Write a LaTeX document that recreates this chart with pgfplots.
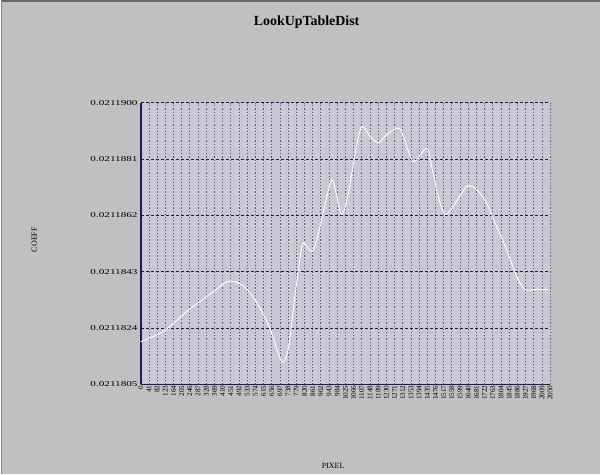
\documentclass[border=0pt]{standalone}
\usepackage{pgfplots}
\pgfplotsset{compat=1.18}
\usepackage{graphicx}
\usepackage{fontspec}
\setmainfont{Liberation Serif}
\definecolor{bg}{HTML}{C0C0C0}
\definecolor{plotbg}{HTML}{C8C8D6}
\definecolor{gridnavy}{HTML}{1E1E50}
\begin{document}
\begin{tikzpicture}[x=1bp,y=1bp]
\fill[bg] (0,0) rectangle (600,475);
\fill[white] (600,0) rectangle (613,475);
\draw[line width=2bp, black!60] (0,474) -- (600,474);
\draw[line width=1bp, black!45] (0.5,0) -- (0.5,474);
\begin{axis}[
  at={(140bp,90bp)}, anchor=south west,
  scale only axis, width=410bp, height=282bp,
  xmin=0, xmax=2050, ymin=5, ymax=100,
  axis background/.style={fill=plotbg},
  axis lines=left,
  axis line style={-, line width=1.6bp, gridnavy},
  xtick={0,41,...,2050},
  ytick={5,24,43,62,81,100},
  yticklabels={\scalebox{1.5}[1]{0.0211805},\scalebox{1.5}[1]{0.0211824},\scalebox{1.5}[1]{0.0211843},\scalebox{1.5}[1]{0.0211862},\scalebox{1.5}[1]{0.0211881},\scalebox{1.5}[1]{0.0211900}},
  /pgf/number format/.cd, fixed, precision=0, set thousands separator={}, assume math mode=true,
  /pgfplots/.cd,
  major tick length=0pt,
  xticklabel style={font=\fontsize{7.2}{8}\selectfont, rotate=90, anchor=east, inner sep=1pt},
  yticklabel style={font=\fontsize{7.5}{8}\selectfont, anchor=east, inner sep=3pt},
  grid=major,
  x grid style={dash pattern=on 1.2bp off 2bp, black!65, line width=0.8bp},
  y grid style={dash pattern=on 3bp off 2bp, gridnavy, line width=0.8bp},
  title={LookUpTableDist},
  title style={font=\bfseries\fontsize{14}{16}\selectfont, at={(rel axis cs:0.405,1.265)}, anchor=center},
  xlabel={PIXEL},
  xlabel style={font=\fontsize{8}{9}\selectfont, at={(rel axis cs:0.47,-0.29)}, anchor=center},
  ylabel={COEFF},
  ylabel style={font=\fontsize{8}{9}\selectfont, at={(rel axis cs:-0.26,0.514)}, anchor=center, rotate=0},
  clip=false,
]
\addplot[white, line width=0.9bp, smooth, tension=0.5] coordinates {
(0,19.4) (116,23.0) (233,29.7) (366,36.4) (441,39.8) (516,38.1) (582,32.5)
(649,23.5) (707,12.5) (741,17.9) (774,35.9) (807,51.6) (824,52.2) (857,49.9)
(882,53.9) (932,68.4) (957,74.1) (974,70.7) (1007,62.3) (1040,69.6) (1074,83.1)
(1107,92.0) (1148,88.7) (1190,86.6) (1240,89.8) (1290,91.5) (1315,88.7) (1365,80.2)
(1432,84.7) (1457,78.5) (1490,68.4) (1524,62.3) (1565,65.1) (1632,71.8) (1682,70.7)
(1732,66.2) (1782,58.3) (1832,50.5) (1882,41.5) (1924,37.0) (1980,37.0) (2040,37.0)
};
\end{axis}
\useasboundingbox (0,0) rectangle (613,475);
\end{tikzpicture}
\end{document}
